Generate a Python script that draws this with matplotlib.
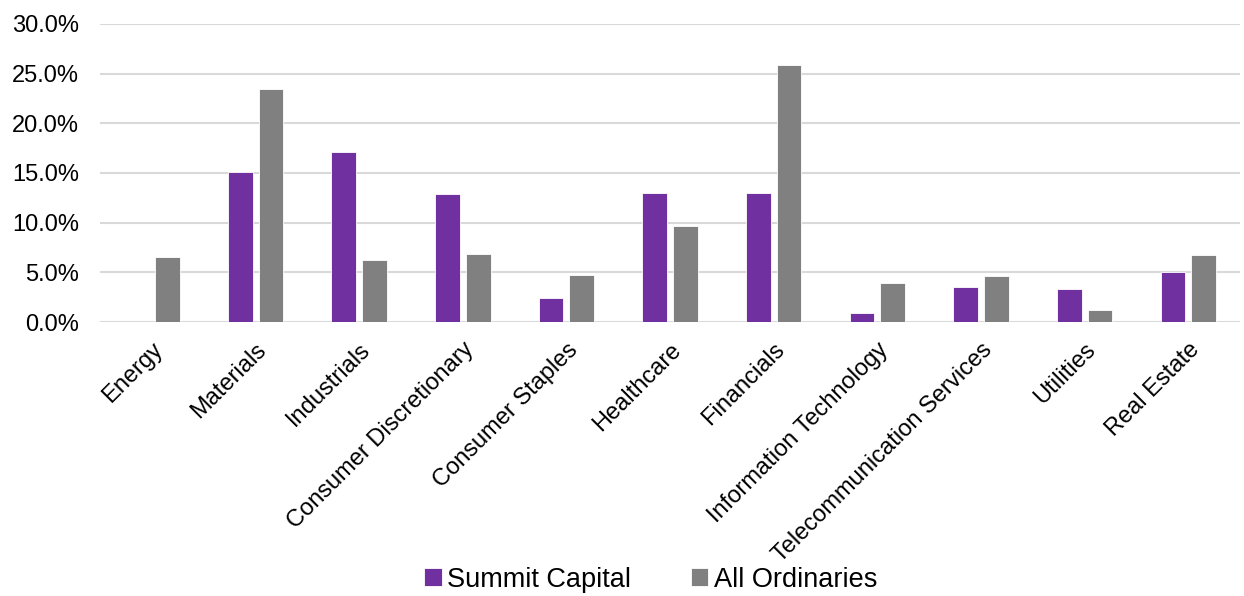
import numpy as np
import matplotlib.pyplot as plt
from matplotlib.ticker import PercentFormatter

plt.rcParams['font.family'] = ['Liberation Sans', 'DejaVu Sans']

sectors = ['Energy', 'Materials', 'Industrials', 'Consumer Discretionary',
           'Consumer Staples', 'Healthcare', 'Financials',
           'Information Technology', 'Telecommunication Services',
           'Utilities', 'Real Estate']
summit = [0.0, 15.1, 17.1, 12.9, 2.4, 13.0, 13.0, 0.9, 3.5, 3.3, 5.0]
all_ords = [6.5, 23.4, 6.2, 6.8, 4.7, 9.7, 25.9, 3.9, 4.6, 1.2, 6.7]
series_names = ['Summit Capital', 'All Ordinaries']
colors = ['#7030A0', '#808080']

fig = plt.figure(figsize=(12.44, 5.96), dpi=100)
ax = fig.add_axes([0.0804, 0.4597, 0.9166, 0.5003])

x = np.arange(len(sectors))
w = 0.238
off = 0.148
ax.bar(x - off, summit, w, color=colors[0], edgecolor='white', linewidth=0.6,
       label=series_names[0], zorder=3)
ax.bar(x + off, all_ords, w, color=colors[1], edgecolor='white', linewidth=0.6,
       label=series_names[1], zorder=3)

ax.set_xlim(-0.5, len(sectors) - 0.5)
ax.set_ylim(0, 30)
ax.set_yticks(np.arange(0, 31, 5))
ax.yaxis.set_major_formatter(PercentFormatter(decimals=1))
ax.grid(axis='y', color='#D9D9D9', linewidth=1.5, zorder=0)
ax.set_axisbelow(True)
for s in ax.spines.values():
    s.set_visible(False)
ax.tick_params(axis='both', length=0, labelsize=17, colors='black')
ax.tick_params(axis='y', pad=15)
ax.set_xticks(x)
ax.set_xticklabels(sectors, rotation=45, ha='right', va='top',
                   rotation_mode='anchor')
ax.tick_params(axis='x', pad=12)

fig.legend(loc='center', bbox_to_anchor=(0.523, 0.027), ncol=2, frameon=False,
           fontsize=19.5, handlelength=0.65, handleheight=0.65,
           handletextpad=0.2, columnspacing=2.2)

fig.savefig('out.png', dpi=100)
